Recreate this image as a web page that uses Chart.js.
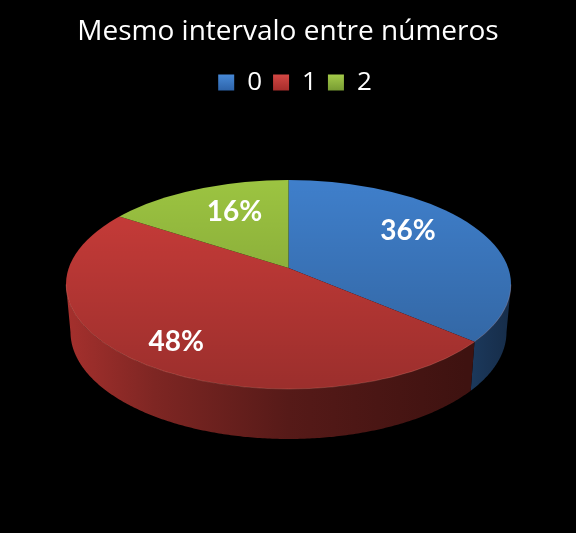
<!DOCTYPE html>
<html>
<head>
<meta charset="utf-8">
<style>
  html, body { margin: 0; padding: 0; background: #000; }
  #wrap { width: 576px; height: 533px; }
</style>
<script src="https://cdn.jsdelivr.net/npm/chart.js@4"></script>
</head>
<body>
<div id="wrap"><canvas id="grafico"></canvas></div>
<script>
const tituloTexto = 'Mesmo intervalo entre números';
const categorias = ['0', '1', '2'];
const valores = [36, 48, 16];
const rotulos = ['36%', '48%', '16%'];
const cores = ['#3f7fcb', '#cc3d3a', '#9cc441'];
const coresLegenda = [['#4a8ddb', '#2c62a8'], ['#d84a46', '#a42c2a'], ['#a8cf4c', '#769a32']];
const coresParede = [
  ['#1c3a5e', '#162c48'],
  ['#a5302d', '#7e2623', '#561a18', '#3e1210']
];

// forma do disco na imagem
const topo = { cx: 288.5, cy: 284.5, rx: 222.5, ry: 104.5 };
const base = { cx: 288.5, cy: 332, rx: 218, ry: 107 };
const apice = { x: 288.5, y: 268 };
const achatamento = 0.48;
const rotuloRaio = [132, 191, 112];
const rotuloAjusteY = [-10.5, 0, -9];
const legendaDeslocamento = 7;

// ponto onde o raio saindo do apice encontra a borda do disco
function pontoBorda(ang) {
  const dx = Math.cos(ang), dy = Math.sin(ang) * achatamento;
  const ox = (apice.x - topo.cx) / topo.rx, oy = (apice.y - topo.cy) / topo.ry;
  const ux = dx / topo.rx, uy = dy / topo.ry;
  const a = ux * ux + uy * uy, b = 2 * (ox * ux + oy * uy), c = ox * ox + oy * oy - 1;
  const t = (-b + Math.sqrt(b * b - 4 * a * c)) / (2 * a);
  return { x: apice.x + dx * t, y: apice.y + dy * t };
}

function desenhaParedes(chart) {
  const ctx = chart.ctx;
  chart.getDatasetMeta(0).data.forEach(function(arco, i) {
    const sup = [], inf = [];
    for (let k = 0; k <= 300; k++) {
      const ang = arco.startAngle + (arco.endAngle - arco.startAngle) * k / 300;
      const p = pontoBorda(ang);
      if (p.y < topo.cy) continue;
      const phi = Math.atan2((p.y - topo.cy) / topo.ry, (p.x - topo.cx) / topo.rx);
      sup.push(p);
      inf.push({ x: base.cx + base.rx * Math.cos(phi), y: base.cy + base.ry * Math.sin(phi) });
    }
    if (!sup.length) return;
    const g = ctx.createLinearGradient(topo.cx - topo.rx, 0, topo.cx + topo.rx, 0);
    if (i === 0) {
      g.addColorStop(0, coresParede[0][0]);
      g.addColorStop(0.9, coresParede[0][0]);
      g.addColorStop(1, coresParede[0][1]);
    } else {
      g.addColorStop(0, coresParede[1][0]);
      g.addColorStop(0.2, coresParede[1][1]);
      g.addColorStop(0.5, coresParede[1][2]);
      g.addColorStop(0.9, coresParede[1][3]);
    }
    ctx.beginPath();
    ctx.moveTo(sup[0].x, sup[0].y);
    sup.forEach(function(p) { ctx.lineTo(p.x, p.y); });
    inf.reverse().forEach(function(p) { ctx.lineTo(p.x, p.y); });
    ctx.closePath();
    ctx.fillStyle = g;
    ctx.fill();
  });
}

const pizza3d = {
  id: 'pizza3d',
  afterLayout(chart) {
    chart.legend.left += legendaDeslocamento;
    chart.legend.right += legendaDeslocamento;
  },
  beforeDatasetsDraw(chart) {
    const ctx = chart.ctx;
    const arco = chart.getDatasetMeta(0).data[0];
    desenhaParedes(chart);
    ctx.save();
    ctx.beginPath();
    ctx.ellipse(topo.cx, topo.cy, topo.rx, topo.ry, 0, 0, Math.PI * 2);
    ctx.clip();
    const escala = 300 / arco.outerRadius;
    ctx.translate(apice.x, apice.y);
    ctx.scale(escala, escala * achatamento);
    ctx.translate(-arco.x, -arco.y);
  },
  afterDatasetsDraw(chart) {
    const ctx = chart.ctx;
    ctx.restore();

    // sombreado da face de cima
    const g = ctx.createLinearGradient(0, topo.cy - topo.ry, 0, topo.cy + topo.ry);
    g.addColorStop(0, 'rgba(0,0,0,0)');
    g.addColorStop(1, 'rgba(0,0,0,0.24)');
    ctx.beginPath();
    ctx.ellipse(topo.cx, topo.cy, topo.rx, topo.ry, 0, 0, Math.PI * 2);
    ctx.fillStyle = g;
    ctx.fill();

    // filete claro na borda da frente
    ctx.beginPath();
    ctx.ellipse(topo.cx, topo.cy, topo.rx, topo.ry, 0, 0, Math.PI);
    ctx.strokeStyle = 'rgba(255,170,150,0.22)';
    ctx.lineWidth = 1;
    ctx.stroke();

    // rotulos de porcentagem
    ctx.font = 'bold 28px Lato';
    ctx.fillStyle = '#fff';
    ctx.textAlign = 'center';
    ctx.textBaseline = 'middle';
    chart.getDatasetMeta(0).data.forEach(function(arco, i) {
      const meio = (arco.startAngle + arco.endAngle) / 2;
      const x = apice.x + Math.cos(meio) * rotuloRaio[i];
      const y = apice.y + Math.sin(meio) * rotuloRaio[i] * achatamento + rotuloAjusteY[i];
      ctx.fillText(rotulos[i], x, y);
    });
  }
};

const ctx = document.getElementById('grafico').getContext('2d');
new Chart(ctx, {
  type: 'pie',
  data: {
    labels: categorias,
    datasets: [{
      data: valores,
      backgroundColor: cores,
      borderWidth: 0,
      clip: false
    }]
  },
  options: {
    responsive: true,
    maintainAspectRatio: false,
    animation: false,
    layout: { padding: 0 },
    plugins: {
      title: {
        display: true,
        text: tituloTexto,
        color: '#fff',
        font: { family: 'Open Sans', size: 28, weight: 'normal' },
        padding: { top: 15, bottom: 10 }
      },
      legend: {
        position: 'top',
        labels: {
          color: '#fff',
          font: { family: 'Open Sans', size: 26 },
          boxWidth: 16,
          boxHeight: 16,
          padding: 11,
          generateLabels(chart) {
            return categorias.map(function(c, i) {
              const g = chart.ctx.createLinearGradient(0, 73, 0, 91);
              g.addColorStop(0, coresLegenda[i][0]);
              g.addColorStop(1, coresLegenda[i][1]);
              return { text: c, fillStyle: g, strokeStyle: g, fontColor: '#fff', lineWidth: 0, index: i };
            });
          }
        }
      },
      tooltip: { enabled: false }
    }
  },
  plugins: [pizza3d]
});
</script>
</body>
</html>
